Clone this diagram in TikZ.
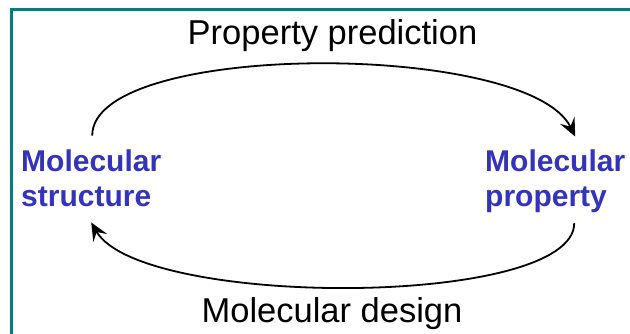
\documentclass[tikz,border=0pt]{standalone}
\usepackage{fontspec}
\setmainfont{Liberation Sans}
\usetikzlibrary{arrows.meta}
\definecolor{frameteal}{RGB}{0,128,128}
\definecolor{molblue}{RGB}{51,51,187}
\begin{document}
\begin{tikzpicture}[x=1pt,y=-1pt,
  captiontext/.style={inner sep=0pt, font=\fontsize{34.5}{40}\selectfont, anchor=base},
  concept/.style={inner sep=0pt, text=molblue, font=\fontsize{30}{35}\selectfont\bfseries, anchor=base west},
  looparrow/.style={line width=1.8pt, -{Stealth[length=18pt,width=16pt,inset=7pt]}}]
\useasboundingbox (0,0) rectangle (630,334);
\fill[white] (0,0) rectangle (630,334);
\draw[frameteal, line width=3pt] (11.7,334) -- (11.7,9.5) -- (630,9.5);
\node[captiontext] (pred) at (332.5,45) {Property prediction};
\node[captiontext] (design) at (332,322) {Molecular design};
\node[concept] (ms) at (21,172) {\vtop{\baselineskip=35pt\hbox{Molecular}\hbox{structure}}};
\node[concept] (mp) at (485,172) {\vtop{\baselineskip=35pt\hbox{Molecular}\hbox{property}}};
\draw[looparrow] ([shift={(1,-14.5)}]ms.north) .. controls +(0,-95) and +(-47,-96) .. ([shift={(20,-13.5)}]mp.north);
\draw[looparrow] ([shift={(19,9.7)}]mp.south) .. controls +(0,85) and +(50,86) .. ([shift={(0,15)}]ms.south);
\end{tikzpicture}
\end{document}
